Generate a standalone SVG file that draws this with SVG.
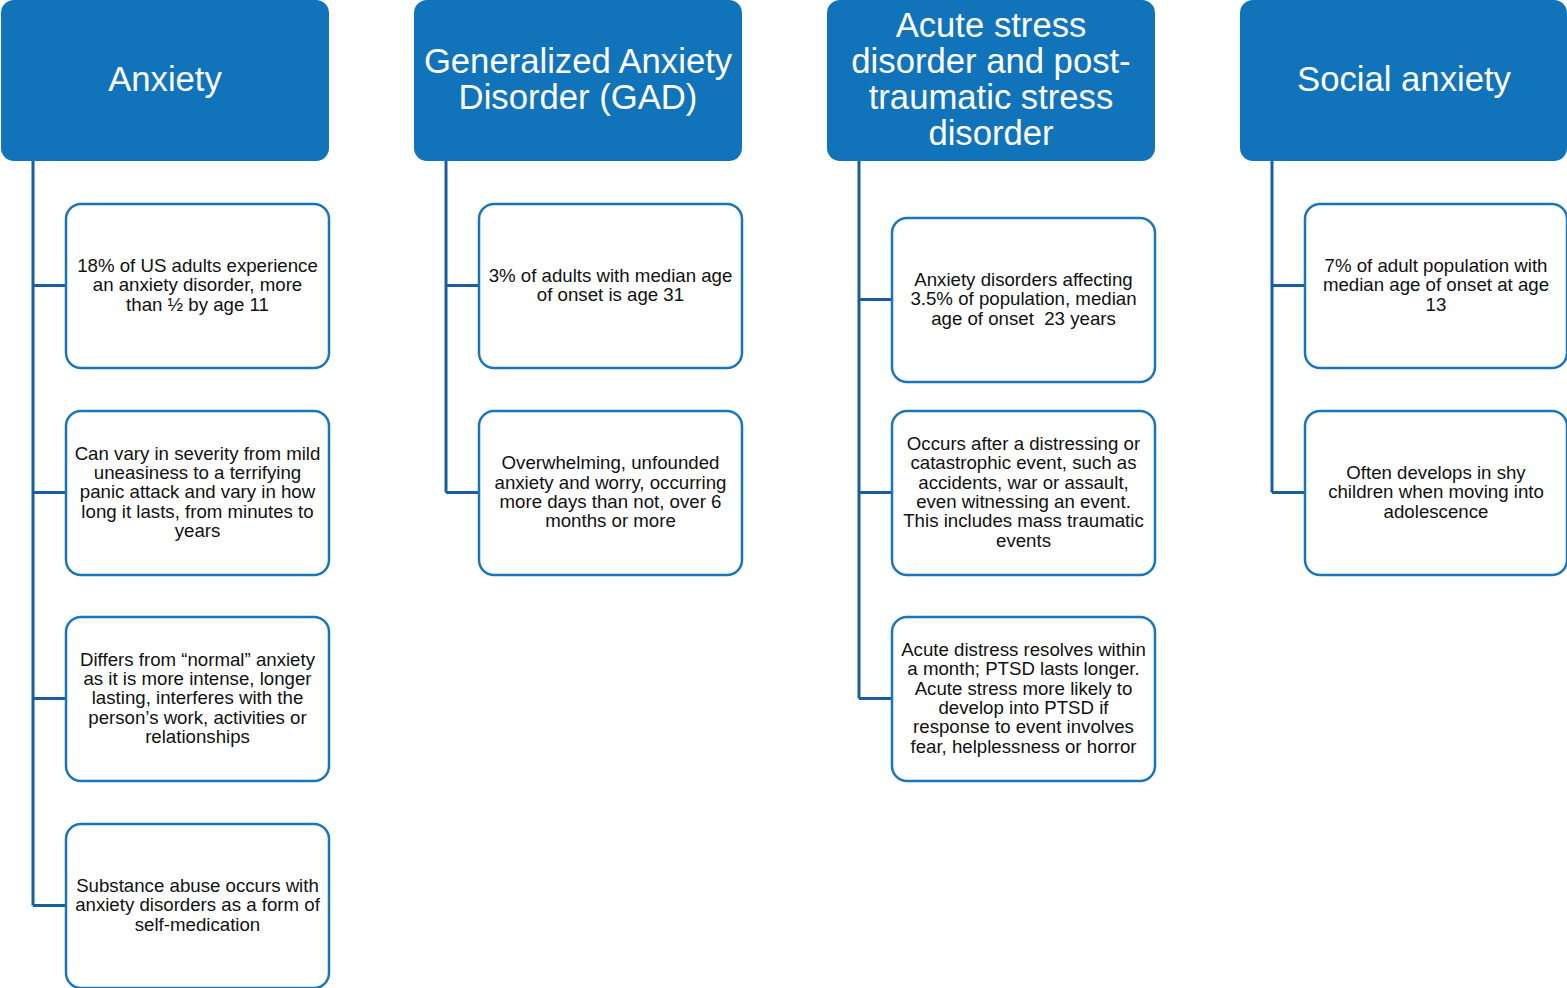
<svg xmlns="http://www.w3.org/2000/svg" width="1567" height="988" viewBox="0 0 1567 988">
<style>
.hdr{fill:#1174BA}
.htxt{font-family:"Liberation Sans",Arial,sans-serif;font-size:34.67px;fill:#fff;text-anchor:middle}
.box{fill:#fff;stroke:#1B75BB;stroke-width:2.5}
.btxt{font-family:"Liberation Sans",Arial,sans-serif;font-size:18.67px;fill:#111;text-anchor:middle;white-space:pre}
.con{fill:none;stroke:#1A5E9E;stroke-width:3}
</style>
<rect width="1567" height="988" fill="#fff"/>
<g id="connectors">
<path class="con" d="M33 161V905.5M33 285.5H66M33 492.5H66M33 698.5H66M33 905.5H66"/>
<path class="con" d="M446 161V492.5M446 285.5H479M446 492.5H479"/>
<path class="con" d="M859 161V698.5M859 299.5H892M859 492.5H892M859 698.5H892"/>
<path class="con" d="M1272 161V492.5M1272 285.5H1305M1272 492.5H1305"/>
</g>
<g id="h1"><rect class="hdr" x="1" y="0" width="328" height="161" rx="13"/><text class="htxt" x="165" y="90.5">Anxiety</text></g>
<g id="h2"><rect class="hdr" x="414" y="0" width="328" height="161" rx="13"/><text class="htxt" x="578" y="72.5"><tspan x="578">Generalized Anxiety</tspan><tspan x="578" dy="36">Disorder (GAD)</tspan></text></g>
<g id="h3"><rect class="hdr" x="827" y="0" width="328" height="161" rx="13"/><text class="htxt" x="991" y="36.5"><tspan x="991">Acute stress</tspan><tspan x="991" dy="36">disorder and post-</tspan><tspan x="991" dy="36">traumatic stress</tspan><tspan x="991" dy="36">disorder</tspan></text></g>
<g id="h4"><rect class="hdr" x="1240" y="0" width="327" height="161" rx="13"/><text class="htxt" x="1404" y="90.5">Social anxiety</text></g>

<g id="a1"><rect class="box" x="66" y="204" width="263" height="164" rx="15"/><text class="btxt" y="271.9"><tspan x="197.5">18% of US adults experience</tspan><tspan x="197.5" dy="19.3">an anxiety disorder, more</tspan><tspan x="197.5" dy="19.3">than ½ by age 11</tspan></text></g>
<g id="a2"><rect class="box" x="66" y="411" width="263" height="164" rx="15"/><text class="btxt" y="459.6"><tspan x="197.5">Can vary in severity from mild</tspan><tspan x="197.5" dy="19.3">uneasiness to a terrifying</tspan><tspan x="197.5" dy="19.3">panic attack and vary in how</tspan><tspan x="197.5" dy="19.3">long it lasts, from minutes to</tspan><tspan x="197.5" dy="19.3">years</tspan></text></g>
<g id="a3"><rect class="box" x="66" y="617" width="263" height="164" rx="15"/><text class="btxt" y="665.6"><tspan x="197.5">Differs from “normal” anxiety</tspan><tspan x="197.5" dy="19.3">as it is more intense, longer</tspan><tspan x="197.5" dy="19.3">lasting, interferes with the</tspan><tspan x="197.5" dy="19.3">person’s work, activities or</tspan><tspan x="197.5" dy="19.3">relationships</tspan></text></g>
<g id="a4"><rect class="box" x="66" y="824" width="263" height="164" rx="15"/><text class="btxt" y="891.9"><tspan x="197.5">Substance abuse occurs with</tspan><tspan x="197.5" dy="19.3">anxiety disorders as a form of</tspan><tspan x="197.5" dy="19.3">self-medication</tspan></text></g>

<g id="g1"><rect class="box" x="479" y="204" width="263" height="164" rx="15"/><text class="btxt" y="281.6"><tspan x="610.5">3% of adults with median age</tspan><tspan x="610.5" dy="19.3">of onset is age 31</tspan></text></g>
<g id="g2"><rect class="box" x="479" y="411" width="263" height="164" rx="15"/><text class="btxt" y="469.3"><tspan x="610.5">Overwhelming, unfounded</tspan><tspan x="610.5" dy="19.3">anxiety and worry, occurring</tspan><tspan x="610.5" dy="19.3">more days than not, over 6</tspan><tspan x="610.5" dy="19.3">months or more</tspan></text></g>

<g id="p1"><rect class="box" x="892" y="218" width="263" height="164" rx="15"/><text class="btxt" y="285.9"><tspan x="1023.5">Anxiety disorders affecting</tspan><tspan x="1023.5" dy="19.3">3.5% of population, median</tspan><tspan x="1023.5" dy="19.3">age of onset  23 years</tspan></text></g>
<g id="p2"><rect class="box" x="892" y="411" width="263" height="164" rx="15"/><text class="btxt" y="450"><tspan x="1023.5">Occurs after a distressing or</tspan><tspan x="1023.5" dy="19.3">catastrophic event, such as</tspan><tspan x="1023.5" dy="19.3">accidents, war or assault,</tspan><tspan x="1023.5" dy="19.3">even witnessing an event.</tspan><tspan x="1023.5" dy="19.3">This includes mass traumatic</tspan><tspan x="1023.5" dy="19.3">events</tspan></text></g>
<g id="p3"><rect class="box" x="892" y="617" width="263" height="164" rx="15"/><text class="btxt" y="656"><tspan x="1023.5">Acute distress resolves within</tspan><tspan x="1023.5" dy="19.3">a month; PTSD lasts longer.</tspan><tspan x="1023.5" dy="19.3">Acute stress more likely to</tspan><tspan x="1023.5" dy="19.3">develop into PTSD if</tspan><tspan x="1023.5" dy="19.3">response to event involves</tspan><tspan x="1023.5" dy="19.3">fear, helplessness or horror</tspan></text></g>

<g id="s1"><rect class="box" x="1305" y="204" width="262" height="164" rx="15"/><text class="btxt" y="271.9"><tspan x="1436">7% of adult population with</tspan><tspan x="1436" dy="19.3">median age of onset at age</tspan><tspan x="1436" dy="19.3">13</tspan></text></g>
<g id="s2"><rect class="box" x="1305" y="411" width="262" height="164" rx="15"/><text class="btxt" y="478.9"><tspan x="1436">Often develops in shy</tspan><tspan x="1436" dy="19.3">children when moving into</tspan><tspan x="1436" dy="19.3">adolescence</tspan></text></g>
</svg>
